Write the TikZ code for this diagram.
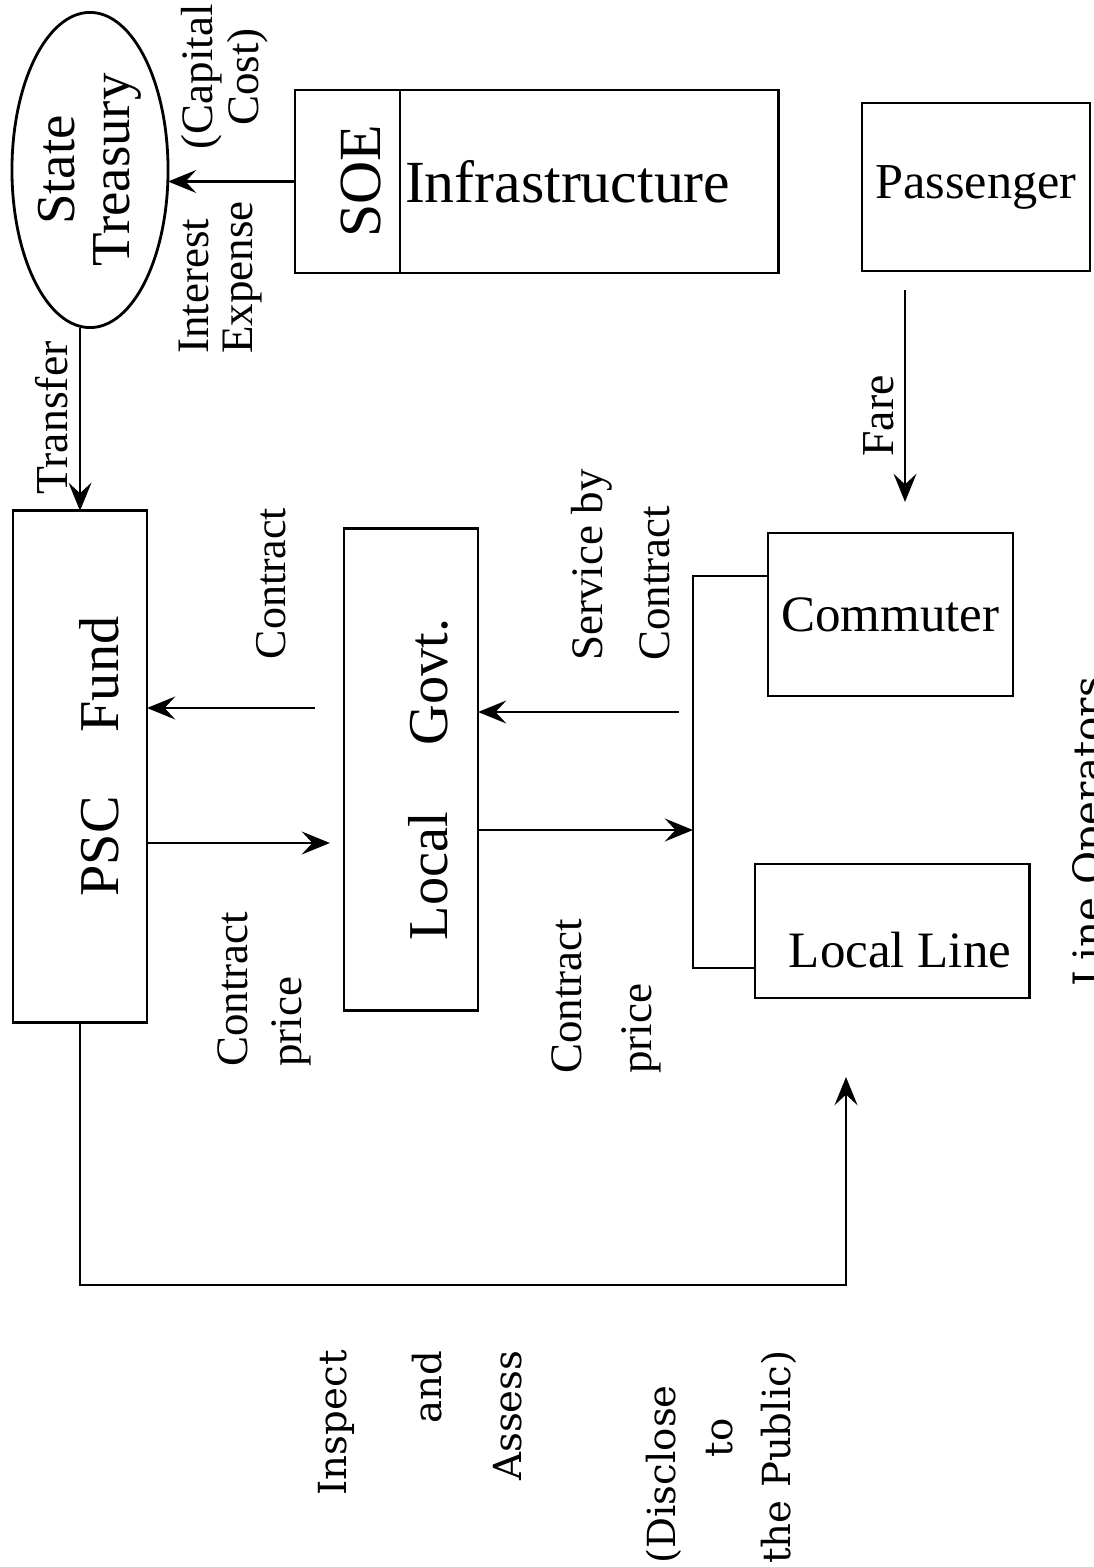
\documentclass[tikz,border=0pt]{standalone}
\usepackage{fontspec}
\setmainfont{Liberation Serif}
\newfontfamily\wideserif{DejaVu Serif}
\usetikzlibrary{arrows.meta,shapes.geometric}

\begin{document}
\begin{tikzpicture}[x=0.01cm,y=-0.01cm,line width=0.8pt,
 box/.style={draw,inner sep=0pt,outer sep=0pt},
 vbox/.style={draw,rotate=90,inner sep=0pt,outer sep=0pt},
 vtext/.style={rotate=90,inner sep=0pt},
 arr/.style={-{Stealth[length=8pt,width=6.5pt,inset=3pt]}}]
 \useasboundingbox (0,0) rectangle (1093,1567);
 \clip (0,0) rectangle (1093,1567);
 % boxes
 \node[box,ellipse,rotate=90,minimum width=3.15cm,minimum height=1.56cm,align=center,font=\fontsize{15.6}{15.5}\selectfont] (treasury) at (90,170) {State\\Treasury};
 \node[vbox,minimum width=1.83cm,text height=0.85cm,text depth=0.2cm,font=\fontsize{17}{17}\selectfont] (soe) at (347.5,181.5) {SOE};
 \node[box,anchor=west,minimum height=1.83cm,text width=3.68cm,inner xsep=0.05cm,align=left,font=\fontsize{17}{17}\selectfont] (infra) at (soe.south) {Infrastructure};
 \node[box,minimum width=2.28cm,minimum height=1.68cm,font=\fontsize{14.3}{14.3}\selectfont] (pass) at (976,187) {Passenger};
 \node[vbox,minimum width=5.11cm,text height=1.05cm,text depth=0.29cm,font=\fontsize{16}{16}\selectfont] (psc) at (80,766.5) {\hspace*{0.2cm}PSC\hspace{0.64cm}Fund};
 \node[vbox,minimum width=4.81cm,text height=1.03cm,text depth=0.31cm,font=\fontsize{16}{16}\selectfont] (lgov) at (411,769.5) {Local\hspace{0.67cm}Govt.\hspace*{0.2cm}};
 \node[box,minimum width=2.45cm,minimum height=1.63cm,font=\fontsize{14.5}{14.5}\selectfont] (comm) at (890.5,614.5) {Commuter};
 \node[box,minimum width=2.74cm,text height=1.03cm,text depth=0.31cm,font=\fontsize{14.5}{14.5}\selectfont] (loc) at (892,931) {\hspace*{0.16cm}Local Line};

 % rows and corners of the connectors
 \coordinate (contr) at (0,708);
 \coordinate (serv) at (0,712);
 \coordinate (price1) at (0,843);
 \coordinate (price2) at (0,830);
 \coordinate (bustop) at (693,576);
 \coordinate (busbot) at (693,968);
 \coordinate (farex) at (905,0);
 \coordinate (corner) at (846,1285);
 \coordinate (insptip) at (846,1077);

 % connectors
 \draw[arr] (soe.north) -- (treasury.south |- soe.north);
 \draw[arr] (treasury.west -| psc.east) -- (psc.east);
 \draw[arr,shorten <=0.29cm] (lgov.north |- contr) -- (psc.south |- contr);
 \draw[arr,shorten >=0.14cm] (psc.south |- price1) -- (lgov.north |- price1);
 \draw[arr] (lgov.south |- price2) -- (bustop |- price2);
 \draw[arr,shorten <=0.14cm] (bustop |- serv) -- (lgov.south |- serv);
 \draw (comm.west |- bustop) -- (bustop) -- (busbot) -- (loc.west |- busbot);
 \draw[arr,shorten <=0.19cm,shorten >=0.31cm] (pass.south -| farex) -- (comm.north -| farex);
 \draw[arr] (psc.west) |- (corner) -- (insptip);

 % labels
 \node[vtext,font=\fontsize{13}{13}\selectfont] (transfer) at (51.5,418) {Transfer};
 \node[vtext,anchor=west,align=left,font=\fontsize{12.8}{12.5}\selectfont] (interest) at (221,355) {Interest\\Expense};
 \node[vtext,align=center,font=\fontsize{12.8}{13}\selectfont] (capital) at (224.5,77) {(Capital\\Cost)};
 \node[vtext,font=\fontsize{12.5}{12.5}\selectfont] (contract) at (271,583.5) {Contract};
 \node[vtext,anchor=west,align=left,font=\fontsize{12.8}{15.4}\selectfont] (cprice1) at (264.5,1068) {Contract\\price};
 \node[vtext,anchor=west,align=left,font=\fontsize{12.8}{20}\selectfont] (cprice2) at (606.5,1075) {Contract\\price};
 \node[vtext,anchor=west,align=left,font=\fontsize{12.8}{19}\selectfont] (service) at (621,662) {Service by\\Contract};
 \node[vtext,font=\fontsize{13}{13}\selectfont] (fare) at (878.5,416) {Fare};
 \node[vtext,anchor=east,align=right,font=\wideserif\fontsize{11}{22.7}\selectfont] (inspect) at (420,1349) {Inspect\\[4.3pt]and\\Assess};
 \node[vtext,anchor=west,align=left,font=\wideserif\fontsize{11}{16.3}\selectfont] (disclose) at (721,1565) {(Disclose\\\hspace*{1.06cm}to\\the Public)};
 \node[vtext,font=\wideserif\fontsize{11.5}{11.5}\selectfont] (operators) at (1092,832) {Line Operators};
\end{tikzpicture}
\end{document}
